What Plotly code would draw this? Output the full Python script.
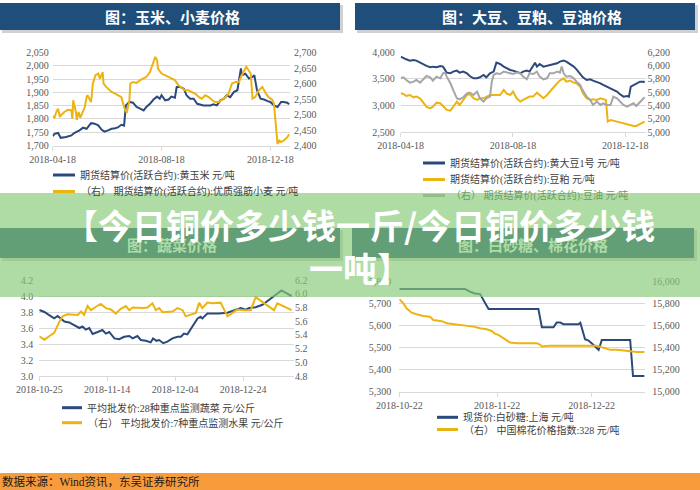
import plotly.graph_objects as go
import pandas as pd

W, H = 700, 490

# ---------------- data ----------------
# Chart 1: corn / wheat (start 2018-04-18)
corn_days = [0,2,6,9,15,21,24,30,34,38,41,43,47,51,55,58,62,66,70,73,77,80,82,86,90,94,98,102,105,109,
             113,117,120,122,126,130,133,137,139,143,147,150,154,158,162,169,177,180,184,188,192,195,199,203,
             207,211,212,216,220,224,226,229,233,237,241,244,248,252,256,259,263,265]
corn_vals = [1735,1744,1747,1729,1732,1738,1747,1757,1767,1763,1776,1784,1782,1776,1759,1752,1757,1763,1765,1768,
             1778,1775,1851,1864,1861,1845,1839,1832,1845,1857,1873,1884,1876,1889,1870,1873,1884,1880,1920,1920,
             1914,1889,1876,1876,1857,1851,1851,1855,1851,1870,1876,1889,1882,1901,1908,1990,1965,1970,1952,1958,
             1965,1908,1876,1873,1867,1864,1851,1845,1864,1864,1861,1855]
wheat_days = [0,2,4,6,8,9,13,17,21,22,23,26,27,29,31,33,36,38,39,41,43,45,48,51,53,56,57,60,64,66,
              70,73,77,80,82,83,86,87,90,94,98,102,105,109,111,115,117,118,122,126,130,133,137,141,145,148,
              152,156,160,164,167,171,175,179,182,186,190,194,197,201,205,209,211,214,217,219,222,224,227,231,
              235,239,242,246,248,250,252,254,256,259,263,265]
wheat_vals = [2494,2490,2508,2519,2492,2497,2508,2515,2513,2486,2546,2508,2483,2508,2490,2503,2524,2556,2562,2551,
              2540,2600,2627,2632,2616,2637,2600,2589,2578,2573,2567,2562,2556,2524,2508,2505,2546,2600,2605,2602,
              2611,2616,2621,2637,2654,2686,2675,2648,2632,2627,2621,2616,2611,2594,2584,2578,2578,2573,2567,2556,
              2551,2562,2556,2546,2540,2540,2548,2556,2567,2600,2605,2605,2621,2637,2654,2645,2632,2551,2556,2578,
              2589,2567,2556,2548,2535,2470,2405,2416,2411,2416,2427,2436]

# Chart 2: soybean / soymeal / soyoil (start 2018-04-18)
soy_days = [0,3,6,10,14,17,21,25,28,32,35,39,43,46,50,54,57,61,64,68,72,75,79,83,86,90,93,97,101,104,
            108,112,115,119,122,126,130,133,137,140,146,148,151,155,159,162,166,170,173,177,180,184,188,191,
            195,198,202,206,209,213,217,220,224,228,231,235,238,242,246,248,250,253,256,260,264,265]
soy_vals = [3919,3888,3869,3844,3856,3844,3806,3781,3744,3719,3731,3719,3744,3731,3619,3606,3638,3656,3619,3638,
            3606,3556,3513,3513,3531,3575,3531,3606,3638,3806,3781,3731,3700,3669,3656,3638,3606,3638,3656,3638,
            3806,3731,3781,3731,3744,3763,3781,3794,3825,3844,3825,3781,3731,3681,3606,3531,3481,3494,3469,3450,
            3419,3388,3356,3325,3306,3263,3219,3169,3181,3169,3356,3388,3419,3450,3450,3431]
meal_days = [0,3,6,10,14,17,21,25,28,32,35,39,43,46,50,54,57,61,64,68,72,75,79,83,86,90,93,97,101,104,
             108,112,115,119,122,126,130,133,137,140,144,148,151,155,159,162,166,170,173,177,180,184,188,191,
             195,198,202,206,209,213,217,220,223,225,228,231,235,238,242,246,249,253,256,260,264,265]
meal_vals = [3231,3219,3181,3200,3156,3169,3138,3044,2981,2950,2981,3056,3044,2994,2919,2906,2981,3075,3013,3106,
             3200,3219,3138,3106,3138,3138,3169,3200,3200,3200,3200,3294,3231,3200,3263,3138,3075,3106,3138,3169,
             3169,3244,3200,3138,3200,3263,3356,3419,3469,3513,3450,3469,3431,3419,3356,3231,3138,3106,3119,3106,
             3138,3119,3106,2700,2731,2719,2700,2681,2669,2656,2638,2619,2619,2656,2700,2700]
oil_days = [0,3,6,10,14,17,21,25,28,32,35,39,43,46,48,50,54,57,61,64,68,72,75,79,83,86,90,93,97,99,
            101,104,108,112,115,119,122,126,130,133,137,140,144,148,151,155,159,162,166,170,173,175,177,180,
            184,188,191,195,198,202,206,209,213,217,220,224,228,231,235,238,242,246,249,253,256,260,264,265]
oil_vals = [5810,5825,5785,5745,5760,5785,5745,5810,5845,5825,5775,5835,5810,5885,5895,5835,5735,5635,5510,5495,
            5525,5585,5595,5560,5610,5510,5460,5510,5535,5760,5860,5885,5875,5910,5895,5885,5875,5895,5885,5835,
            5795,5885,5875,5910,5835,5795,5810,5885,5885,5910,5895,5985,5885,5835,5845,5810,5760,5710,5625,5535,
            5485,5410,5460,5410,5435,5410,5410,5535,5510,5460,5410,5385,5410,5435,5395,5460,5525,5525]

# Chart 3: vegetables / fruit (start 2018-10-25)
veg_days = [0.0,1.5,2.9,4.4,5.4,6.4,7.4,8.8,10.3,11.8,12.7,13.7,14.7,15.7,17.2,18.6,19.6,20.6,22.1,23.5,
            25.0,26.5,27.5,28.9,29.9,31.4,32.8,33.5,34.5,35.3,36.5,37.7,39.2,40.7,41.7,42.6,43.6,45.1,46.6,47.5,
            48.0,49.5,51.0,52.9,55.4,57.4,59.3,60.8,61.8,63.7,65.7,67.6,69.6,71.3,73.0,74.3]
veg_vals = [3.825,3.80,3.76,3.72,3.75,3.72,3.68,3.67,3.64,3.60,3.62,3.58,3.60,3.525,3.55,3.575,3.53,3.55,3.47,3.46,
            3.49,3.50,3.47,3.50,3.45,3.44,3.42,3.47,3.44,3.45,3.41,3.43,3.47,3.49,3.49,3.53,3.52,3.62,3.72,3.74,
            3.72,3.78,3.78,3.78,3.79,3.82,3.85,3.83,3.85,3.86,3.89,3.95,4.01,4.07,4.03,4.00]
fruit_days = [0.0,1.5,2.9,4.4,5.9,6.9,8.3,9.8,11.3,12.3,13.2,14.2,15.2,16.7,18.1,19.6,21.1,22.5,24.0,25.5,
              26.5,27.5,28.9,30.4,31.9,33.3,34.3,35.3,36.3,37.7,39.2,40.7,42.2,43.1,44.6,46.1,47.1,48.0,49.5,51.0,
              53.4,55.4,56.9,58.3,60.3,62.3,63.7,65.7,67.6,69.1,70.1,72.1,74.3]
fruit_vals = [5.38,5.33,5.38,5.43,5.59,5.67,5.70,5.70,5.69,5.74,5.69,5.82,5.76,5.81,5.85,5.79,5.77,5.71,5.78,5.82,
              5.76,5.80,5.79,5.79,5.80,5.86,5.76,5.79,5.73,5.74,5.74,5.79,5.76,5.67,5.69,5.72,5.87,5.79,5.87,5.86,
              5.87,5.67,5.72,5.77,5.76,5.76,5.95,5.88,5.81,5.76,5.86,5.81,5.76]

# Chart 4: sugar / cotton (start 2018-10-22)
sugar_days = [0,20.8,22.4,24.0,25.6,26.7,28.3,44.1,45.2,48.9,49.9,51.0,52.1,56.8,57.4,58.9,60.0,61.6,63.2,64.2,73.2,74.1,77.7]
sugar_vals = [5764,5764,5752,5744,5741,5714,5674,5674,5591,5591,5612,5612,5605,5605,5612,5537,5531,5511,5489,5534,5534,5371,5371]
cotton_days = [0,1.3,2.3,3.9,5.5,7.6,9.7,10.8,12.9,14.0,15.0,16.6,18.2,20.3,23.5,25.6,27.7,29.3,30.4,31.4,
               33.0,34.1,35.1,37.2,43.6,44.7,45.2,47.8,54.2,60.5,62.6,64.8,66.9,69.0,71.1,73.2,75.3,77.7]
cotton_vals = [15835,15798,15753,15714,15699,15684,15678,15648,15639,15633,15618,15612,15603,15597,15588,15573,15564,15549,15522,15513,
               15483,15462,15444,15438,15438,15423,15408,15414,15417,15414,15414,15393,15378,15378,15372,15369,15359,15359]

# texts
titles = ["图：玉米、小麦价格", "图：大豆、豆粕、豆油价格", "图：蔬菜价格", "图：白砂糖、棉花价格"]
leg1 = ["期货结算价(活跃合约):黄玉米 元/吨", "（右） 期货结算价(活跃合约):优质强筋小麦 元/吨"]
leg2 = ["期货结算价(活跃合约):黄大豆1号 元/吨", "期货结算价(活跃合约):豆粕 元/吨", "（右） 期货结算价(活跃合约):豆油 元/吨"]
leg3 = ["平均批发价:28种重点监测蔬菜 元/公斤", "（右） 平均批发价:7种重点监测水果 元/公斤"]
leg4 = ["现货价:白砂糖:上海 元/吨", "（右） 中国棉花价格指数:328 元/吨"]
ticks1 = ["2018-04-18", "2018-08-18", "2018-12-18"]
ticks3 = ["2018-10-25", "2018-11-14", "2018-12-04", "2018-12-24"]
ticks4 = ["2018-10-22", "2018-11-22", "2018-12-22"]
headline = ["【今日铜价多少钱一斤/今日铜价多少钱", "一吨】"]
source = "数据来源：Wind资讯，东吴证券研究所"

# ---------------- styling ----------------
BLUE = "#2B4A7B"
YELLOW = "#EDB313"
GRAY = "#A6A6A6"
BANNER = "#1F4E7A"
GRID = "#D9D9D9"
TXT = "#404040"
TICKFONT = dict(family="Liberation Serif, Noto Sans CJK SC", size=10, color="#595959")
LEGFONT = dict(family="Liberation Serif, Noto Sans CJK SC", size=10, color=TXT)


def px(x):
    return x / W


def py(y):
    return 1 - y / H


def dates(start, days):
    return pd.Timestamp(start) + pd.to_timedelta(days, unit="D")


fig = go.Figure()

def line(x, y, color, xa, ya):
    fig.add_trace(go.Scatter(x=x, y=y, mode="lines", line=dict(color=color, width=2),
                             xaxis=xa, yaxis=ya, showlegend=False, hoverinfo="skip"))

line(dates("2018-04-18", corn_days), corn_vals, BLUE, "x", "y")
line(dates("2018-04-18", wheat_days), wheat_vals, YELLOW, "x", "y2")
line(dates("2018-04-18", oil_days), oil_vals, GRAY, "x2", "y4")
line(dates("2018-04-18", meal_days), meal_vals, YELLOW, "x2", "y3")
line(dates("2018-04-18", soy_days), soy_vals, BLUE, "x2", "y3")
line(dates("2018-10-25", veg_days), veg_vals, BLUE, "x3", "y5")
line(dates("2018-10-25", fruit_days), fruit_vals, YELLOW, "x3", "y6")
line(dates("2018-10-22", cotton_days), cotton_vals, YELLOW, "x4", "y8")
line(dates("2018-10-22", sugar_days), sugar_vals, BLUE, "x4", "y7")


def xax(dom, rng, tv, anchor):
    return dict(type="date", domain=[px(dom[0]), px(dom[1])], range=rng, tickvals=tv,
                tickformat="%Y-%m-%d", showgrid=False, showline=True, linecolor=GRID,
                ticks="outside", ticklen=4, tickcolor=GRID, tickfont=TICKFONT, anchor=anchor,
                zeroline=False, automargin=False)


def yleft(dom, rng, dt, fmt, anchor, standoff):
    return dict(domain=[py(dom[1]), py(dom[0])], range=rng, dtick=dt, tick0=rng[0], tickformat=fmt,
                showgrid=True, gridcolor=GRID, gridwidth=1, zeroline=False, showline=False,
                ticks="", tickfont=TICKFONT, anchor=anchor, ticklabelstandoff=standoff, automargin=False)


def yright(rng, dt, fmt, anchor, over, standoff):
    return dict(range=rng, dtick=dt, tick0=rng[0], tickformat=fmt, overlaying=over, side="right",
                showgrid=False, zeroline=False, showline=False, ticks="", tickfont=TICKFONT,
                anchor=anchor, ticklabelstandoff=standoff, automargin=False)


layout = dict(
    width=W, height=H, margin=dict(l=0, r=0, t=0, b=0, pad=0, autoexpand=False),
    paper_bgcolor="white", plot_bgcolor="rgba(0,0,0,0)", showlegend=False,
    xaxis=xax((52.7, 290), ["2018-04-18", "2019-01-09"], ticks1, "y"),
    yaxis=yleft((52.5, 145.5), [1700, 2050], 50, ",d", "x", 3),
    yaxis2=yright([2400, 2700], 50, ",d", "x", "y", 3),
    xaxis2=xax((400.7, 645.5), ["2018-04-18", "2019-01-09"], ticks1, "y3"),
    yaxis3=yleft((52.3, 132.3), [2500, 4000], 500, ",d", "x2", 5),
    yaxis4=yright([5000, 6200], 200, ",d", "x2", "y3", 1),
    xaxis3=xax((39.3, 294), ["2018-10-25", "2019-01-08"], ticks3, "y5"),
    yaxis5=yleft((280, 376), [3.0, 4.2], 0.2, ".1f", "x3", 5),
    yaxis6=yright([4.8, 6.2], 0.2, ".1f", "x3", "y5", 0),
    xaxis4=xax((399.3, 645.3), ["2018-10-22", "2019-01-08"], ticks4, "y7"),
    yaxis7=yleft((281, 391.7), [5300, 5800], 100, ",d", "x4", 7),
    yaxis8=yright([15000, 16000], 200, ",d", "x4", "y7", 6),
)
fig.update_layout(**layout)

shapes = []
annotations = []


def rect(x0, y0, x1, y1, color, lw=0):
    shapes.append(dict(type="rect", xref="paper", yref="paper", x0=px(x0), x1=px(x1),
                       y0=py(y1), y1=py(y0), fillcolor=color, line=dict(width=lw), layer="above"))


def seg(x0, x1, y, color):
    shapes.append(dict(type="line", xref="paper", yref="paper", x0=px(x0), x1=px(x1),
                       y0=py(y), y1=py(y), line=dict(color=color, width=3), layer="above"))


def text(x, y, s, font, xanchor="left"):
    annotations.append(dict(xref="paper", yref="paper", x=px(x), y=py(y), text=s, showarrow=False,
                            xanchor=xanchor, yanchor="middle", font=font))


# title banners (with soft shadow)
for (x0, y0, x1, y1) in [(0, 3, 340, 30), (355, 3, 695, 30), (0, 228, 340, 258), (352, 228, 694, 258)]:
    rect(x0 + 2, y0 + 2, x1 + 3, y1 + 3, "rgba(0,0,0,0.18)")
    rect(x0, y0, x1, y1, BANNER)

# legend marks
seg(53, 75, 175, BLUE)
seg(53, 75, 191.5, YELLOW)
seg(423, 445, 163, BLUE)
seg(423, 445, 179.5, YELLOW)
seg(423, 445, 195.5, GRAY)
seg(62, 82, 407.7, BLUE)
seg(62, 82, 422.7, YELLOW)
seg(437, 458, 417.3, BLUE)
seg(437, 458, 429.5, YELLOW)

# translucent green overlay band
rect(0, 193, 700, 297, "rgba(133,202,118,0.66)")
# orange footer
rect(0, 473, 700, 490, "#F89B3B")

TITLEFONT = dict(family="Noto Sans CJK SC", size=15, color="white")
text(172, 17, "<b>%s</b>" % titles[0], TITLEFONT, "center")
text(532, 17, "<b>%s</b>" % titles[1], TITLEFONT, "center")
TINTFONT = dict(family="Noto Sans CJK SC", size=15, color="rgb(175,220,165)")
text(172, 244, "<b>%s</b>" % titles[2], TINTFONT, "center")
text(533, 244, "<b>%s</b>" % titles[3], TINTFONT, "center")

text(78, 175, leg1[0], LEGFONT)
text(79, 191.5, leg1[1], LEGFONT)
text(448, 163, leg2[0], LEGFONT)
text(448, 179.5, leg2[1], LEGFONT)
text(449, 195.5, leg2[2], dict(LEGFONT, color="rgb(110,155,100)"))
text(85, 407.7, leg3[0], LEGFONT)
text(86, 422.7, leg3[1], LEGFONT)
text(461, 417.3, leg4[0], LEGFONT)
text(462, 429.5, leg4[1], LEGFONT)

BIGFONT = dict(family="Noto Sans CJK SC", size=34, color="white")
text(360, 225, "<b>%s</b>" % headline[0], BIGFONT, "center")
text(360, 267, "<b>%s</b>" % headline[1], BIGFONT, "center")

text(0, 481.5, source, dict(family="Liberation Serif, Noto Sans CJK SC", size=11.5, color="#1A1A1A"))

fig.update_layout(shapes=shapes, annotations=annotations)
fig.write_html("out.html")
